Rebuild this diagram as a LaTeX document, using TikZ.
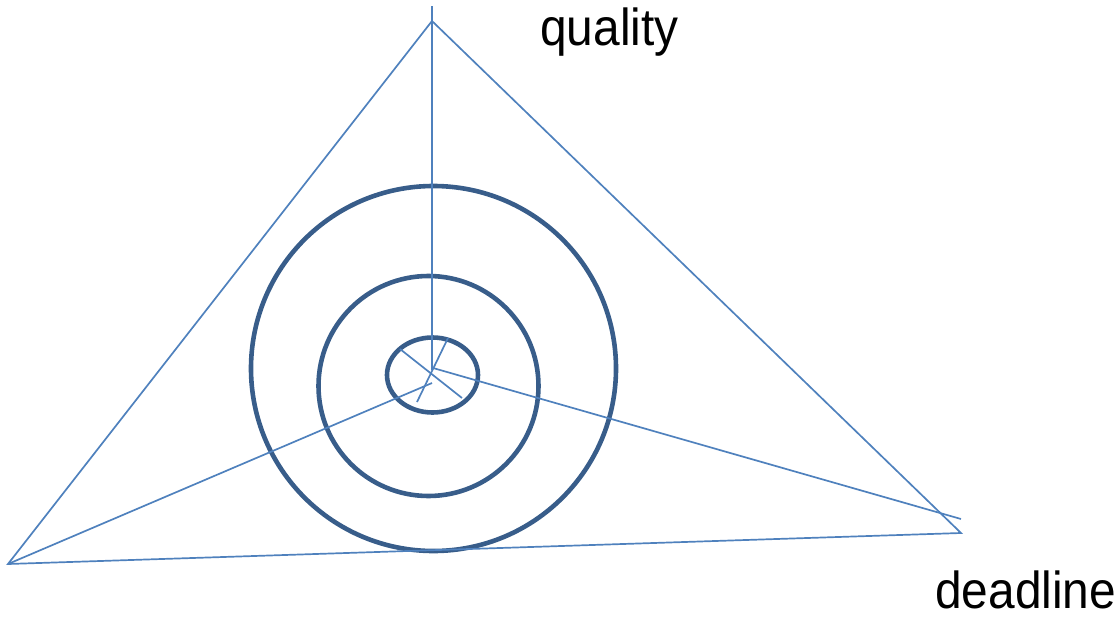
\documentclass[tikz,border=0pt]{standalone}
\usepackage{fontspec}
\newfontfamily\labfont[FakeStretch=0.92]{Liberation Sans}
\definecolor{thinblue}{HTML}{4F81BD}
\definecolor{ringblue}{HTML}{385D8A}
\begin{document}
\begin{tikzpicture}[x=1pt,y=-1pt,
  thinline/.style={draw=thinblue,line width=1.7pt},
  ring/.style={draw=ringblue,line width=4.6pt},
  lab/.style={anchor=base west,inner sep=0pt,font=\labfont\fontsize{52}{60}\selectfont}]
\useasboundingbox (0,0) rectangle (1120,624);
% triangle vertices
\coordinate (apex) at (432,21);
\coordinate (bl) at (8,564);
\coordinate (br) at (961,533);
\coordinate (top) at (432,6);
\coordinate (ctr) at (432,370);
\coordinate (rEnd) at (961,519);
\coordinate (rIn) at (433,368);
\coordinate (lIn) at (432,383);
\coordinate (d1a) at (400,349);
\coordinate (d1b) at (462,398);
\coordinate (d2a) at (448,338);
\coordinate (d2b) at (417,402);
% rings
\draw[ring] (433.5,368.5) circle [radius=182.5];
\draw[ring] (428.5,386) circle [radius=110];
\draw[ring] (432.5,375) ellipse [x radius=45.5, y radius=37.5];
% triangle
\draw[thinline] (apex) -- (bl) -- (br) -- cycle;
% inner lines
\draw[thinline] (top) -- (ctr);
\draw[thinline] (rEnd) -- (rIn);
\draw[thinline] (bl) -- (lIn);
\draw[thinline] (d1a) -- (d1b);
\draw[thinline] (d2a) -- (d2b);
% labels
\node[lab] (quality) at (540,45) {quality};
\node[lab] (deadline) at (935,608) {deadline};
\end{tikzpicture}
\end{document}
